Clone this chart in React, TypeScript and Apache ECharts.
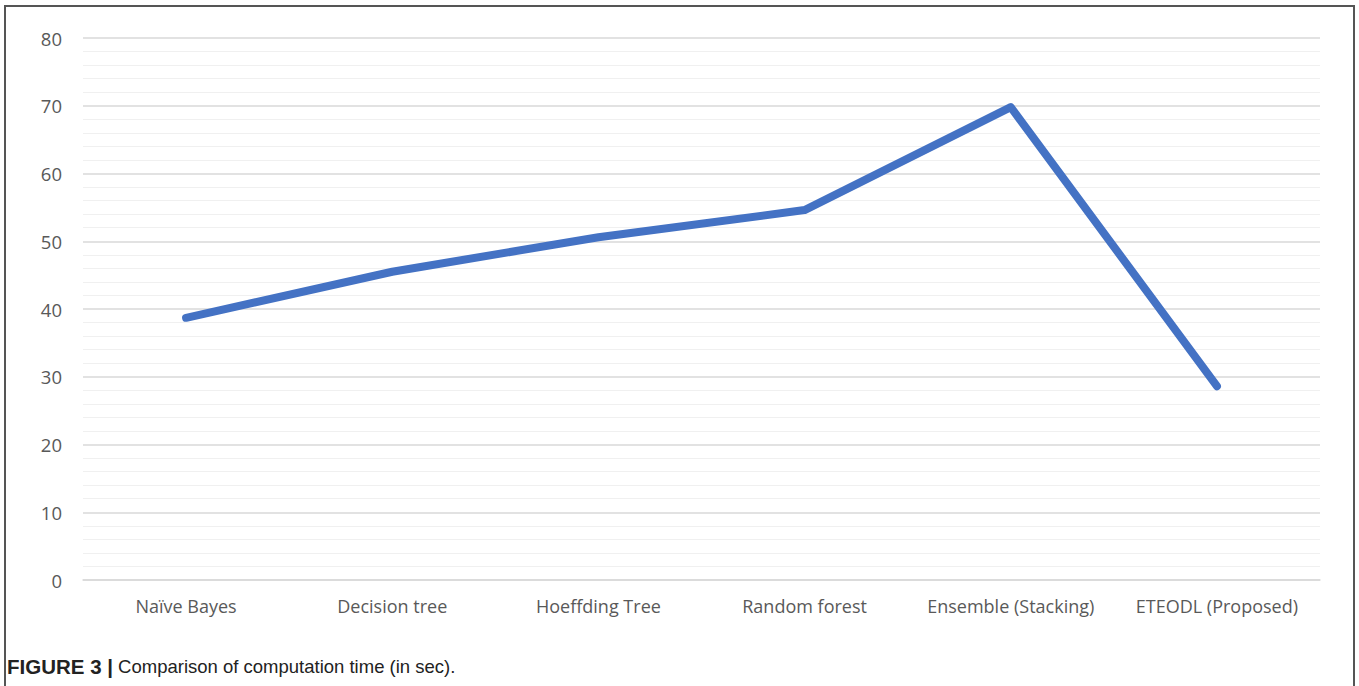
import React, { useEffect, useRef } from "react";
import * as echarts from "echarts";

const categories = [
  "Naïve Bayes",
  "Decision tree",
  "Hoeffding Tree",
  "Random forest",
  "Ensemble (Stacking)",
  "ETEODL (Proposed)",
];
const computationTime = [38.7, 45.5, 50.6, 54.6, 69.8, 28.6];
const yTicks = { min: 0, max: 80, interval: 10 };
const captionBold = "FIGURE 3 |";
const captionText = " Comparison of computation time (in sec).";

export default function App() {
  const ref = useRef<HTMLDivElement>(null);
  useEffect(() => {
    if (!ref.current) return;
    const chart = echarts.init(ref.current, null, { renderer: "svg" });
    chart.setOption({
      animation: false,
      backgroundColor: "#ffffff",
      grid: { left: 83, right: 39, top: 38, bottom: 106 },
      xAxis: {
        type: "category",
        data: categories,
        boundaryGap: true,
        axisLine: { show: true, lineStyle: { color: "#d9d9d9", width: 1.5 } },
        axisTick: { show: false },
        axisLabel: {
          color: "#595959",
          fontFamily: "Open Sans",
          fontSize: 18,
          margin: 17,
          interval: 0,
        },
      },
      yAxis: {
        type: "value",
        min: yTicks.min,
        max: yTicks.max,
        interval: yTicks.interval,
        axisLine: { show: false },
        axisTick: { show: false },
        axisLabel: {
          color: "#595959",
          fontFamily: "Open Sans",
          fontSize: 18.5,
          margin: 21,
        },
        splitLine: { show: true, lineStyle: { color: "#d9d9d9", width: 1.5 } },
        minorTick: { show: false, splitNumber: 5 },
        minorSplitLine: { show: true, lineStyle: { color: "#f0f0f0", width: 1 } },
      },
      series: [
        {
          type: "line",
          data: computationTime,
          symbol: "none",
          lineStyle: { color: "#4472c4", width: 8, cap: "round", join: "round" },
          itemStyle: { color: "#4472c4" },
        },
      ],
      graphic: [
        {
          type: "polyline",
          shape: { points: [[5, 700], [5, 6], [1354, 6], [1354, 700]] },
          style: { stroke: "#555555", lineWidth: 2, fill: "none" },
          silent: true,
        },
        {
          type: "text",
          x: 7,
          y: 666,
          style: {
            text: "{b|" + captionBold + "}{r|" + captionText + "}",
            verticalAlign: "middle",
            rich: {
              b: {
                fontFamily: "Liberation Sans",
                fontWeight: "bold",
                fontSize: 20.5,
                fill: "#222222",
              },
              r: {
                fontFamily: "Liberation Sans",
                fontSize: 18.5,
                fill: "#222222",
              },
            },
          },
        },
      ],
    });
    return () => chart.dispose();
  }, []);
  return (
    <div
      style={{ position: "absolute", left: 0, top: 0, width: 1359, height: 686 }}
    >
      <div ref={ref} style={{ width: 1359, height: 686 }} />
    </div>
  );
}
